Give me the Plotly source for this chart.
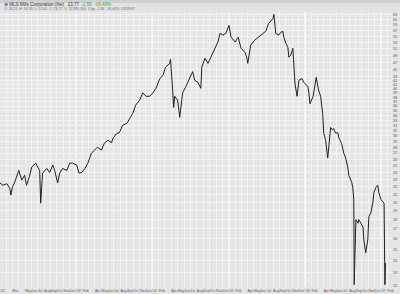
import plotly.graph_objects as go

# ---- data ----
dates = [
    "2002-01-01", "2002-01-15", "2002-02-03", "2002-02-17", "2002-02-22", "2002-03-02", "2002-03-11",
    "2002-04-01", "2002-04-15", "2002-04-29", "2002-05-08", "2002-05-22", "2002-06-02", "2002-06-21",
    "2002-07-01", "2002-07-10", "2002-07-15", "2002-07-24", "2002-08-13", "2002-08-27", "2002-09-11",
    "2002-09-20", "2002-10-04", "2002-10-14", "2002-10-28", "2002-11-17", "2002-12-01", "2002-12-15",
    "2003-01-04", "2003-01-14", "2003-01-28", "2003-02-12", "2003-02-26", "2003-03-15", "2003-03-30",
    "2003-04-13", "2003-05-02", "2003-05-16", "2003-06-01", "2003-06-20", "2003-06-25", "2003-07-13",
    "2003-07-27", "2003-08-11", "2003-09-01", "2003-09-15", "2003-09-29", "2003-10-13", "2003-11-01",
    "2003-11-16", "2003-12-01", "2003-12-19", "2004-01-03", "2004-01-18", "2004-02-06", "2004-02-21",
    "2004-03-04", "2004-03-24", "2004-03-28", "2004-04-07", "2004-04-12", "2004-04-17", "2004-05-01",
    "2004-05-11", "2004-05-16", "2004-05-25", "2004-06-09", "2004-06-28", "2004-07-12", "2004-07-22",
    "2004-08-06", "2004-08-20", "2004-08-25", "2004-09-09", "2004-09-23", "2004-10-07", "2004-10-27",
    "2004-11-10", "2004-11-20", "2004-12-04", "2004-12-18", "2005-01-02", "2005-01-12", "2005-02-01",
    "2005-02-15", "2005-03-01", "2005-03-19", "2005-03-28", "2005-04-02", "2005-04-16", "2005-05-05",
    "2005-05-19", "2005-06-03", "2005-06-27", "2005-07-11", "2005-08-01", "2005-08-05", "2005-08-14",
    "2005-08-28", "2005-09-08", "2005-09-17", "2005-09-22", "2005-10-01", "2005-10-11", "2005-10-16",
    "2005-10-25", "2005-11-04", "2005-11-09", "2005-11-14", "2005-11-24", "2005-11-28", "2005-12-03",
    "2005-12-17", "2005-12-27", "2006-01-15", "2006-01-20", "2006-01-25", "2006-02-09", "2006-02-14",
    "2006-02-24", "2006-03-04", "2006-03-07", "2006-03-17", "2006-03-27", "2006-04-01", "2006-04-10",
    "2006-04-20", "2006-04-25", "2006-05-04", "2006-05-13", "2006-05-18", "2006-05-28", "2006-06-07",
    "2006-06-12", "2006-06-26", "2006-07-06", "2006-07-15", "2006-07-25", "2006-07-30", "2006-08-13",
    "2006-08-18", "2006-08-23", "2006-08-25", "2006-09-02", "2006-09-12", "2006-09-16", "2006-09-26",
    "2006-10-06", "2006-10-10", "2006-10-19", "2006-10-29", "2006-11-03", "2006-11-13", "2006-11-22",
    "2006-11-27", "2006-12-07", "2006-12-16", "2006-12-21", "2007-01-01", "2007-01-10", "2007-01-15",
    "2007-01-19", "2007-01-22",
]
prices = [
    22.5, 22.2, 22.4, 21.8, 20.9, 22.0, 22.5,
    24.3, 22.9, 23.6, 22.2, 23.4, 24.8, 25.4,
    24.8, 24.3, 19.9, 23.9, 24.6, 24.0, 25.1,
    24.3, 22.5, 23.9, 24.6, 24.3, 25.4, 25.4,
    25.1, 23.9, 24.0, 24.6, 25.4, 27.0, 27.5,
    28.0, 27.5, 28.7, 29.2, 28.8, 29.5, 30.4,
    30.6, 32.0, 32.4, 33.4, 34.4, 36.2, 37.3,
    39.0, 38.2, 38.2, 39.0, 40.1, 42.6, 43.4,
    45.6, 46.7, 47.9, 39.7, 35.7, 38.2, 37.3,
    33.6, 35.7, 39.0, 40.5, 42.9, 44.4, 42.1,
    41.6, 40.1, 45.6, 48.2, 46.7, 48.5, 51.5,
    53.2, 56.1, 55.5, 56.1, 58.9, 54.8, 53.2,
    54.8, 51.2, 50.0, 48.5, 46.7, 52.2, 53.8,
    54.5, 55.5, 56.8, 59.6, 61.4, 63.0, 56.1,
    55.5, 56.5, 56.8, 54.8, 52.8, 51.5, 48.5,
    49.1, 51.2, 44.8, 41.4, 38.2, 40.5, 42.1,
    42.6, 41.6, 40.5, 39.0, 36.5, 38.2, 39.7,
    42.9, 40.5, 39.7, 38.2, 34.4, 30.5, 29.2,
    26.2, 28.6, 31.6, 31.1, 31.4, 30.5, 30.6,
    29.7, 28.6, 27.0, 26.2, 24.8, 23.6, 22.6,
    21.9, 20.3, 12.1, 18.0, 17.6, 18.0, 17.6,
    17.2, 15.9, 14.7, 15.9, 18.3, 18.8, 19.9,
    21.2, 21.9, 22.2, 21.2, 20.3, 20.0, 19.9,
    12.1, 13.8,
]

y_ticks = list(range(12, 44)) + list(range(45, 64, 2))
years = [2002, 2003, 2004, 2005, 2006, 2007]
month_names = ["Jan", "Feb", "Mar", "Apr", "May", "Jun", "Jul", "Aug", "Sep", "Oct", "Nov", "Dec"]

tick_vals, tick_text = [], []
for yr in years:
    for m in range(1, 13):
        if yr == 2007 and m > 2:
            break
        if yr == 2002 and m in (2, 4):
            continue
        if yr != 2002 and m == 3:
            continue
        tick_vals.append(f"{yr}-{m:02d}-01")
        tick_text.append(f"'{str(yr)[2:]}" if m == 1 else month_names[m - 1])

FONT = "Liberation Sans, Arial, sans-serif"
BG = "#e5e5e5"
GRID = "#f3f3f3"

fig = go.Figure()
fig.add_trace(go.Scatter(
    x=dates, y=prices, mode="lines",
    line=dict(color="#202020", width=1),
    hoverinfo="skip", showlegend=False,
))

for yr in years[1:]:
    fig.add_shape(type="line", xref="x", yref="paper", x0=f"{yr}-01-01", x1=f"{yr}-01-01",
                  y0=0, y1=1, line=dict(color="#ffffff", width=1.6), layer="below")

# header band
fig.add_shape(type="rect", xref="paper", yref="paper", x0=-0.01, x1=1.03, y0=1.0, y1=1.05,
              fillcolor="#e2e2e2", line=dict(width=0), layer="below")
fig.add_shape(type="rect", xref="paper", yref="paper", x0=-0.01, x1=1.03, y0=1.033, y1=1.05,
              fillcolor="#d0d0d0", line=dict(width=0), layer="below")

fig.add_annotation(xref="paper", yref="paper", x=0.004, y=1.027, xanchor="left", yanchor="middle",
                   showarrow=False, font=dict(family=FONT, size=4.5, color="#333333"),
                   text="⊗ MLS Mills Corporation (the)   13.77  <span style='color:#33aa33'>-2.56  -16.40%</span>")
fig.add_annotation(xref="paper", yref="paper", x=0.004, y=1.011, xanchor="left", yanchor="middle",
                   showarrow=False, font=dict(family=FONT, size=3.5, color="#666666"),
                   text="O: 16.21  H: 16.33  L: 12.61  C: 13.77  V: 12,985,100  Chg: -2.56  -16.40%  01/19/07")

fig.update_layout(
    width=400, height=294,
    margin=dict(l=0, r=8, t=12, b=7),
    paper_bgcolor=BG, plot_bgcolor=BG,
    font=dict(family=FONT, size=3.6, color="#555555"),
    xaxis=dict(
        type="date", range=["2002-01-01", "2007-02-22"],
        tickmode="array", tickvals=tick_vals, ticktext=tick_text, tickangle=0,
        ticklabelposition="outside right",
        showgrid=False, zeroline=False, showline=False, ticks="",
        tickfont=dict(size=3.6, color="#555555"),
        minor=dict(dtick="M1", tick0="2002-01-01", showgrid=True, gridcolor=GRID, gridwidth=1),
    ),
    yaxis=dict(
        type="log", side="right", range=[1.0766, 1.8055],
        tickmode="array", tickvals=y_ticks, ticktext=[str(v) for v in y_ticks],
        showgrid=True, gridcolor=GRID, gridwidth=1, zeroline=False, showline=False, ticks="",
        tickfont=dict(size=3.8, color="#555555"),
    ),
)

fig.write_html("out.html")
